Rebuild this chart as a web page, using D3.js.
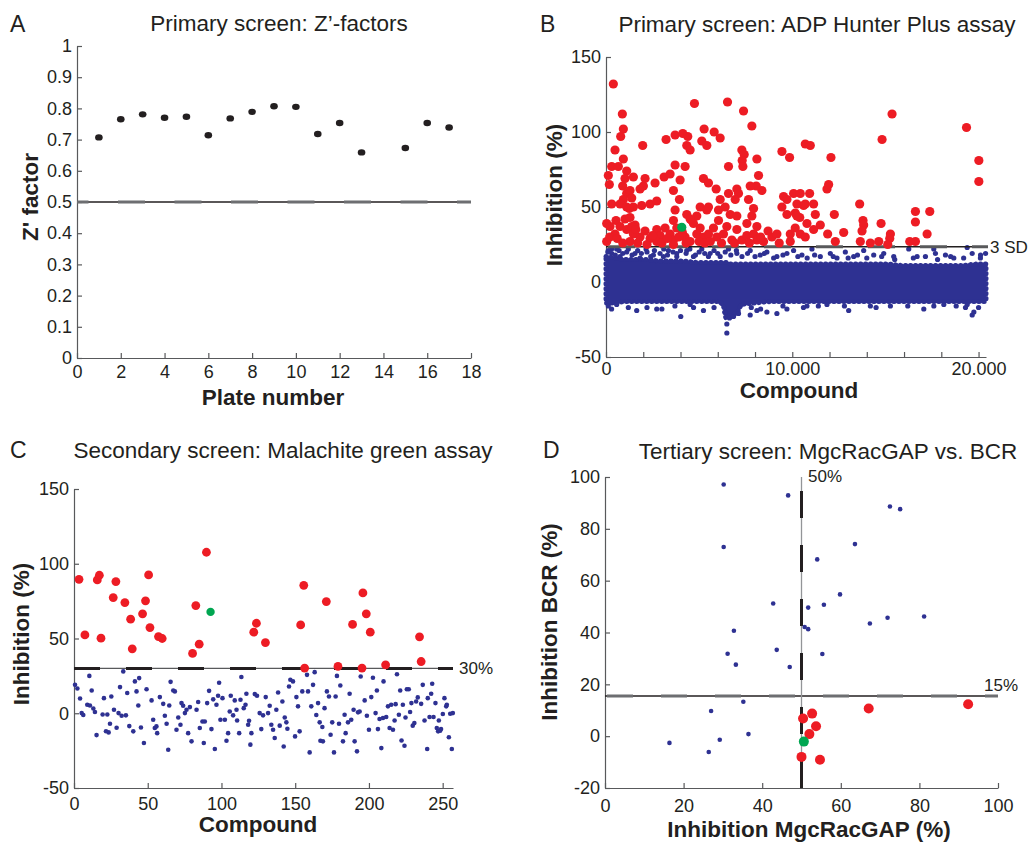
<!DOCTYPE html>
<html>
<head>
<meta charset="utf-8">
<style>
body { margin: 0; background: #fff; }
text { font-family: "Liberation Sans", Arial, Helvetica, sans-serif; fill: #231f20; }
.axis path, .axis line { stroke: #58595b; stroke-width: 1.2; }
.axis text { font-size: 18px; }
.title { font-size: 22.5px; }
.letter { font-size: 23px; }
.label { font-size: 22.5px; font-weight: bold; }
.note { font-size: 17px; }
</style>
</head>
<body>
<div id="fig"></div>
<script src="https://d3js.org/d3.v7.min.js"></script>
<script>
// ---- panel A: Z'-factors per plate
var plates = [1, 2, 3, 4, 5, 6, 7, 8, 9, 10, 11, 12, 13, 15, 16, 17];
var zFactors = [0.707, 0.765, 0.781, 0.770, 0.773, 0.714, 0.768, 0.789, 0.807, 0.805, 0.718, 0.753, 0.659, 0.673, 0.753, 0.739];
var zCutoff = 0.5;

// ---- panel B: primary screen (compound index, inhibition %)
var bHits = [[394,132],[878,112],[932,102],[788,97],[484,88],[1971,91],[3226,95],[3710,98],[4122,99],[4390,97],[4337,91],[4516,88],[4749,119],[5268,102],[5806,100],[6129,96],[6523,120],[7383,114],[7831,104],[7293,88],[7419,85],[8100,82],[5143,94],[5412,91],
  [125,71],[179,65],[305,77],[663,77],[932,82],[1111,74],[1470,70],[1021,69],[896,64],[1111,59],[1290,61],[932,55],[1380,56],[305,52],[753,52],[1111,50],[1470,50],[1917,51],[2365,52],[2724,54],[538,41],[36,39],[1021,42],
  [1828,62],[2007,64],[2097,69],[2634,66],[3118,70],[3441,72],[3710,78],[3620,61],[3978,68],[4247,77],[3942,55],[3710,48],[3620,41],[4337,45],[4605,41],[4874,44],[5054,50],[5412,48],[5233,69],[5501,66],[5914,62],[6129,55],[6577,77],[7311,81],[7347,77],[7025,62],[7114,59],[6577,59],[6039,48],[6398,50],[6039,41],[6666,45],[6935,55],[7025,44],[7562,39],[7921,49],[7831,44],[8100,37],[8368,61],[8189,71],[8064,64],[7652,55],[7741,64],[5501,50],[5054,36],[4695,39],[4516,42],[4874,32],[5233,30],[5501,32],[5770,36],[5949,30],[6308,32],[6487,37],[6756,28],[7025,35],[7293,28],[7562,31],[7921,32],[8100,28],[8458,27],[8906,30],[9175,32],[9444,87],[9856,83],[10698,92],[9534,57],[9713,55],[9444,50],[9713,45],[10071,59],[10430,59],[10250,52],[10160,46],[10609,51],[9892,32],[10160,36],[10430,32],[10698,30],[9892,27],
  [753,37],[215,37],[484,32],[1111,35],[1559,38],[1470,32],[1828,30],[2097,34],[2365,29],[2724,35],[2903,31],[3172,36],[3441,32],[3620,28],[3799,36],[4247,30],[4516,27],[3620,25],[36,27],[1290,27],[2724,27],
  [1250,49],[1290,43],[1380,37],[1600,35],[200,30],[600,29],[900,26],[1700,26],[2200,25],[2500,31],[3000,26],[3300,29],[3900,30],[4100,33],[4300,26],[5000,27],[5300,26],[5600,27],[6200,26],[6900,26],[7700,26],[8300,30],[8700,34],[9300,26],
  [10967,91],[12077,83],[15357,112],[14820,95],[19353,103],[20016,81],[20016,67],[10931,59],[10698,52],[11146,52],[11863,62],[11953,65],[11236,45],[10788,39],[11505,38],[11146,35],[11899,32],[12257,45],[12759,33],[12310,27],[13618,52],[13797,41],[13833,38],[13744,34],[13654,27],[14192,26],[14766,39],[14641,27],[15268,32],[15232,29],[15125,25],[16307,27],[16611,27],[16611,40],[16611,47],[17382,47],[17238,32],[10400,43],[10250,44]];
var bSelected = [[4068,36.5]];
var bOutliers = [[125,21],[305,19],[573,22],[753,17],[1111,20],[1559,19],[1828,16],[2150,22],[2545,18],[3082,17],[3351,21],[3799,19],[4336,21],[4695,17],[5143,22],[5591,19],[6129,17],[6577,22],[7025,19],[7741,21],[8279,18],[8637,20],[9175,17],[9713,19],[10071,21],[10519,18],[11057,22],[11505,17],[12042,19],[12400,16],[12849,20],[13297,17],[13834,21],[14372,18],[14910,19],[15447,17],[16253,22],[16701,17],[17149,17],[17597,22],[17687,19],[18224,18],[18672,16],[19390,23],[19659,19],[20107,18],[20376,19],
  [100,20],[300,22],[500,18],[700,21],[900,19],[1200,22],[1400,18],[1700,21],[1900,19],[2200,20],[2400,17],[2600,21],[2900,19],[3100,22],[3300,18],[3600,20],[3800,17],[4000,21],[4300,19],[4500,22],[4800,18],[5000,20],[5300,19],[5500,17],[5800,21],[6000,19],[6400,20],[6700,18],[7000,21],[7300,17],[7600,19],[8000,17],[8500,19],[9000,16],[9500,18],[10300,17],[10800,16],[11200,18],[12200,17],[13000,16],[13500,18],[14000,16],[14800,17],[15500,15],[16500,16],[17800,15],[18500,17],[19200,16],[20100,16],
  [125,-16],[573,-15],[1649,-19],[2724,-18],[4014,-23],[4516,-15],[5233,-19],[6398,-20],[6487,-28],[6487,-34],[6630,-24],[6845,-23],[7114,-21],[7741,-22],[8100,-19],[8637,-20],[9175,-21],[9713,-18],[10788,-16],[11863,-15],[13028,-19],[14193,-16],[15268,-16],[17060,-18],[18135,-15],[19390,-15],[19659,-22],[19748,-20],
  [300,-18],[1200,-17],[2200,-17],[3000,-18],[3700,-16],[4700,-17],[5800,-17],[7800,-17],[8300,-18],[9500,-16],[10600,-17],[11400,-16],[12800,-16],[14500,-17],[16200,-16],[17600,-16],[18800,-16],[19300,-17],[20000,-17]];
// dense bulk of inactive compounds: upper and lower edge per compound bin
var blobX   = [0, 500, 1000, 2000, 3000, 4000, 5000, 6000, 6300, 6450, 6700, 7000, 7300, 8000, 9000, 10000, 11000, 12000, 13000, 14000, 15000, 16000, 17000, 18000, 19000, 20000, 20400];
var blobTop = [17, 16, 15, 15, 14, 14, 13, 13, 13, 13, 12, 12, 12, 12, 12, 12, 12, 12, 12, 12, 12, 11, 11, 11, 11, 12, 12];
var blobLow = [-14, -14, -13, -13, -13, -13, -13, -13, -16, -24, -22, -21, -15, -14, -13, -13, -13, -13, -13, -13, -13, -13, -13, -13, -13, -13, -13];
var bCutoff = 23.5;

// ---- panel C: secondary screen
var cHits = [[3.4,89.6],[7.4,52.4],[15.8,89.2],[17.2,92.3],[18.3,50.2],[26.6,77.4],[28.4,88.1],[34.5,74],[38.4,62.9],[39.5,43.1],[46.5,66.5],[48.5,75.2],[50.6,92.5],[51.5,57.3],[57.3,51.3],[59.8,50],[80.4,40],[82.6,72],[84.9,46.2],[89.8,107.7],[121.9,54.2],[123.7,60.2],[129.8,47.3],[153.7,59.1],[155.8,85.6],[156.4,30.2],[171.1,74.7],[179,31.3],[188.9,59.4],[195.3,30.2],[195.9,80.5],[198.2,66.5],[200.9,54.2],[211.3,32.4],[234.3,51.1],[235.4,34.6]];
var cSelected = [[92.6,67.8]];
var cInactive = [[0.7,19],[2.3,16.6],[4.1,9.9],[5.2,0.1],[6.3,-1.2],[9,5.7],[10.4,25],[10.8,5.2],[12,15.2],[13.1,3.2],[14.2,0.8],[15.3,-14.6],[19.4,-0.8],[20.3,10.1],[21.7,-12],[22.6,-0.8],[23.5,-12.8],[24.4,-7],[25.3,11.2],[27.1,2.3],[28.9,-9.7],[30.2,0.1],[31.2,17.5],[32.3,-1.7],[35.2,-1.4],[36.1,13.5],[37.5,-8.6],[33.4,28],[40.2,-12.1],[41.3,21.3],[42.4,14.6],[43.6,5.2],[44.2,23.5],[45.4,-9.5],[47.4,-19.9],[49.2,16.1],[52.6,8.6],[53.7,-4.3],[54.8,-9.9],[55.9,-8.8],[56.4,-13.3],[58.2,10.8],[60.5,6.3],[61.6,-1.7],[62.8,-7],[63.9,-24.4],[64.6,5.2],[65.5,21],[67.3,15.2],[68.4,14.6],[69.5,-11],[70.7,-2.8],[72.2,-7.7],[72.9,6.8],[74,5],[75.2,0.1],[76.3,2.3],[77.4,-13.3],[78.6,4.1],[79.7,-18.8],[83.1,2.3],[84.2,7.5],[85.3,-9.9],[87.1,-5.5],[88,-19.9],[88.7,-5.5],[90.3,6.8],[91.6,15],[93.2,-10.6],[94.4,9.3],[95.5,-23.9],[96.6,5.7],[97.7,11.7],[98.4,20.4],[99.3,-4.3],[100.7,10.1],[102.3,-4.3],[103.4,-18.4],[104.5,-13.3],[105.6,1.2],[106.3,11.7],[107.9,-1.4],[109,8.6],[110.2,2.3],[110.6,-4.8],[112,-13.3],[112.9,9],[113.5,24.2],[115.1,3.4],[116.3,5.7],[116.9,13],[118.1,-7.7],[118.7,-5],[119.6,-21],[120.3,-13.3],[122.6,12.8],[124.1,11.7],[125.9,0.1],[127,-10.6],[128.2,-1.4],[130,10.8],[131.6,0.1],[132.7,5],[133.8,-7.7],[135,-11],[136.1,-16.6],[137.2,2.3],[138.4,13.9],[139.5,-8.3],[141.3,7.9],[142.2,-22.2],[142.9,-2.8],[144,-6.1],[144.7,-10.4],[145.8,17.9],[146.7,22.4],[148.5,21.3],[149.9,-15.5],[150.8,10.8],[151.9,4.6],[153,-12.1],[154.8,14.6],[158.7,14.6],[158,25.7],[159.8,-26.2],[160.9,4.6],[162.1,19],[163.2,27.5],[164.3,-1.2],[165.5,6.8],[166.6,-6.1],[167.1,-18.4],[168.4,-9.2],[168.8,-18.8],[169.9,3.4],[171.5,14.6],[172.9,11.2],[174,-14.4],[175.1,-6.1],[176.3,-26.2],[177.4,11.2],[178.3,25],[179.7,-7],[180.6,18.6],[182.4,-18.8],[183.5,-1],[184.2,-13.3],[185.8,-6.1],[186.9,13],[188,-4.3],[189.6,2.3],[190.3,-18.8],[191.9,-25.5],[192.6,0.6],[193.7,1.2],[194.4,24.6],[197.1,8.6],[198.6,-1.7],[200,-11],[201.6,10.8],[202.7,23.7],[204.5,0.1],[205.4,15.2],[206.1,-10.6],[207.2,-3.8],[208.4,-23.3],[209.5,-3.2],[209.9,21.3],[211.7,-2.5],[212.9,4.6],[214,-9.9],[215.1,5.7],[216.3,-11],[217.4,-4.8],[218.1,6.1],[219,26.1],[220.3,-1],[221.2,15.2],[222.1,-18.2],[223,5.7],[224.1,-21.7],[224.8,-2.8],[225.7,16.1],[227,16.1],[227.9,0.8],[228.8,6.8],[229.7,-8.3],[230.8,-6.6],[232,7.9],[233.1,10.6],[235.4,6.3],[236.5,19],[237.7,-4.8],[239.5,-23.9],[239.9,10.1],[241.1,-2.5],[242.2,13],[242.9,19.7],[243.8,-2.5],[245.1,6.8],[246,-9.9],[246.9,-12.1],[247.4,-4.8],[248.3,-11.7],[248.9,-10.6],[250.1,-0.5],[251.2,10.1],[252.4,4.6],[252.8,5.7],[254.2,-16.1],[255.1,-0.3],[256.2,-23.9],[256.9,0.1]];
var cCutoff = 30;

// ---- panel D: MgcRacGAP vs BCR (inhibition %)
var dHits = [[50.4,6.8],[52.7,8.7],[53.7,3.8],[52,0.8],[50,-8],[54.7,-9.1],[67.1,10.7],[92.4,12.3]];
var dSelected = [[50.6,-2.1]];
var dOthers = [[30.2,97.1],[46.6,92.9],[30.2,73],[72.5,88.6],[75.1,87.6],[63.6,74.1],[54,68.2],[59.8,54.7],[42.8,51.2],[51.7,49.6],[55.7,50.7],[81.2,46.2],[71.9,45.7],[67.4,43.5],[50.8,42.1],[51.7,41.3],[32.8,40.7],[43.7,33.3],[55.3,31.7],[31.2,31.8],[33.3,27.6],[47,26.7],[35.2,13.3],[27,9.7],[36.5,0.8],[16.4,-2.6],[29.2,-1.4],[26.4,-6.1]];
var dCutX = 50, dCutY = 15.5;

var blue = "#2e3192", red = "#ed1c24", green = "#00a651", black = "#231f20";

var svg = d3.select("#fig").append("svg").attr("width", 1029).attr("height", 842);

// builds the scales, axes and texts of one panel
function makePanel(o) {
  var x = d3.scaleLinear().domain(o.xDomain).range(o.xRange);
  var y = d3.scaleLinear().domain(o.yDomain).range(o.yRange);
  svg.append("g").attr("class", "axis")
    .attr("transform", "translate(0," + o.yRange[0] + ")")
    .call(d3.axisBottom(x).tickValues(o.xTicks).tickFormat(o.xFormat)
      .tickSizeInner(-5).tickSizeOuter(0).tickPadding(o.xPad));
  svg.append("g").attr("class", "axis")
    .attr("transform", "translate(" + o.xRange[0] + ",0)")
    .call(d3.axisLeft(y).tickValues(o.yTicks).tickFormat(o.yFormat)
      .tickSizeInner(-5).tickSizeOuter(0).tickPadding(5));
  svg.append("text").attr("class", "letter").attr("x", o.letter[1]).attr("y", o.letter[2]).text(o.letter[0]);
  svg.append("text").attr("class", "title").attr("text-anchor", "middle")
    .attr("x", o.title[1]).attr("y", o.title[2]).text(o.title[0]);
  svg.append("text").attr("class", "label").attr("text-anchor", "middle")
    .attr("x", o.xLabel[1]).attr("y", o.xLabel[2]).text(o.xLabel[0]);
  svg.append("text").attr("class", "label").attr("text-anchor", "middle")
    .attr("transform", "translate(" + o.yLabel[1] + "," + o.yLabel[2] + ")rotate(-90)")
    .text(o.yLabel[0]);
  return {x: x, y: y};
}

// cut-off line: thin solid line with thick dashes on top
function cutLine(x1, y1, x2, y2, thin, dash, dashArray, offset) {
  svg.append("line").attr("x1", x1).attr("y1", y1).attr("x2", x2).attr("y2", y2)
    .attr("stroke", thin).attr("stroke-width", 1.3);
  svg.append("line").attr("x1", x1).attr("y1", y1).attr("x2", x2).attr("y2", y2)
    .attr("stroke", dash).attr("stroke-width", 3)
    .attr("stroke-dasharray", dashArray).attr("stroke-dashoffset", offset);
}

function dots(data, sx, sy, r, color) {
  svg.append("g").selectAll("circle").data(data).enter().append("circle")
    .attr("cx", function(d) { return sx(d[0]); })
    .attr("cy", function(d) { return sy(d[1]); })
    .attr("r", r).attr("fill", color);
}

// ===== A
var A = makePanel({
  xDomain: [0, 18], xRange: [77, 471], yDomain: [0, 1], yRange: [358, 46],
  xTicks: d3.range(0, 19, 2), yTicks: d3.range(0, 11).map(function(i) { return i / 10; }),
  xFormat: function(d) { return d; }, yFormat: function(d) { return String(+d.toFixed(1)); },
  xPad: 7,
  letter: ["A", 10, 32], title: ["Primary screen: Z\u2019-factors", 279, 31],
  xLabel: ["Plate number", 273, 405], yLabel: ["Z' factor", 38, 197]
});
cutLine(A.x(0), A.y(zCutoff), A.x(18), A.y(zCutoff), black, "#6d6e71", "27,29.5", 15.5);
svg.append("g").selectAll("ellipse").data(plates).enter().append("ellipse")
  .attr("cx", function(d) { return A.x(d); })
  .attr("cy", function(d, i) { return A.y(zFactors[i]); })
  .attr("rx", 3.8).attr("ry", 3.2).attr("fill", black);

// ===== B
var B = makePanel({
  xDomain: [0, 20400], xRange: [606, 986], yDomain: [-50, 150], yRange: [357, 57],
  xTicks: d3.range(0, 20001, 2000), yTicks: [-50, 0, 50, 100, 150],
  xFormat: function(d) { return d === 0 ? "0" : (d % 10000 === 0 ? d3.format(",")(d).replace(",", ".") : ""); },
  yFormat: function(d) { return d; },
  xPad: 5,
  letter: ["B", 540, 32], title: ["Primary screen: ADP Hunter Plus assay", 817, 32],
  xLabel: ["Compound", 799, 398], yLabel: ["Inhibition (%)", 562, 195]
});
// bulk area, with a beaded outline so that its edges look like packed dots
svg.append("path")
  .datum(blobX.map(function(c, i) { return [c, blobTop[i], blobLow[i]]; }))
  .attr("fill", blue).attr("stroke", blue).attr("stroke-width", 5)
  .attr("stroke-linecap", "round").attr("stroke-dasharray", "0.5,4.5")
  .attr("d", d3.area().curve(d3.curveMonotoneX)
    .x(function(d) { return B.x(d[0]); })
    .y0(function(d) { return B.y(d[2]); })
    .y1(function(d) { return B.y(d[1]); }));
dots(bOutliers, B.x, B.y, 2.6, blue);
cutLine(B.x(0), B.y(bCutoff), 988, B.y(bCutoff), black, "#58595b", "27,25", -2);
dots(bHits, B.x, B.y, 4.6, red);
dots(bSelected, B.x, B.y, 4.6, green);
svg.append("text").attr("class", "note").attr("x", 990).attr("y", B.y(bCutoff) + 6).text("3 SD");

// ===== C
var C = makePanel({
  xDomain: [0, 257], xRange: [74, 453], yDomain: [-50, 150], yRange: [788, 489],
  xTicks: [0, 50, 100, 150, 200, 250], yTicks: [-50, 0, 50, 100, 150],
  xFormat: function(d) { return d; }, yFormat: function(d) { return d; },
  xPad: 9,
  letter: ["C", 10, 458], title: ["Secondary screen: Malachite green assay", 283, 458],
  xLabel: ["Compound", 258, 832], yLabel: ["Inhibition (%)", 29, 634]
});
cutLine(C.x(0), C.y(cCutoff), C.x(257), C.y(cCutoff), "#58595b", black, "26,26", 0);
dots(cInactive, C.x, C.y, 2.3, blue);
dots(cHits, C.x, C.y, 4.4, red);
dots(cSelected, C.x, C.y, 4.2, green);
svg.append("text").attr("class", "note").attr("x", 459).attr("y", C.y(cCutoff) + 6).text("30%");

// ===== D
var D = makePanel({
  xDomain: [0, 100], xRange: [605, 998], yDomain: [-20, 100], yRange: [788, 477],
  xTicks: d3.range(0, 101, 20), yTicks: d3.range(-20, 101, 20),
  xFormat: function(d) { return d; }, yFormat: function(d) { return d; },
  xPad: 11,
  letter: ["D", 543, 458], title: ["Tertiary screen: MgcRacGAP vs. BCR", 828, 459],
  xLabel: ["Inhibition MgcRacGAP (%)", 809, 837], yLabel: ["Inhibition BCR (%)", 557, 622]
});
cutLine(D.x(0), D.y(dCutY), D.x(100), D.y(dCutY), black, "#6d6e71", "26,28", -2);
cutLine(D.x(dCutX), D.y(-20), D.x(dCutX), D.y(100), "#939598", black, "27,27", 0);
dots(dOthers, D.x, D.y, 2.3, blue);
dots(dHits, D.x, D.y, 5, red);
dots(dSelected, D.x, D.y, 5, green);
svg.append("text").attr("class", "note").attr("x", 808).attr("y", 482).text("50%");
svg.append("text").attr("class", "note").attr("x", 984).attr("y", 691).text("15%");
</script>
</body>
</html>
